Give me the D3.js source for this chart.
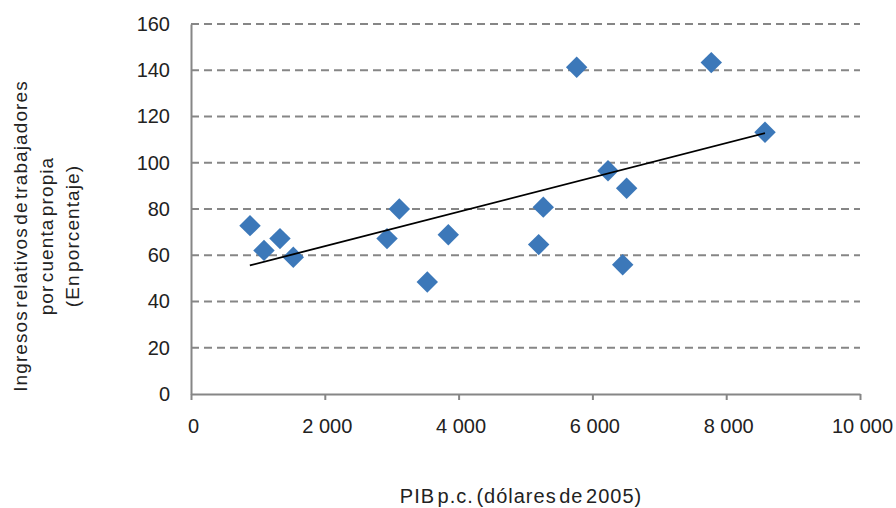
<!DOCTYPE html>
<html lang="es">
<head>
<meta charset="UTF-8">
<title>Ingresos relativos vs PIB p.c.</title>
<script src="https://d3js.org/d3.v7.min.js"></script>
<style>
  body { margin: 0; background: #fff; }
  text { font-family: "Liberation Sans", Arial, sans-serif; fill: #222; }
</style>
</head>
<body>
<div id="chart"></div>
<script>
// PIB p.c. (dólares de 2005) for each country
var pib = [882, 1091, 1330, 1529, 2930, 3114, 3532, 3846, 5266, 5197, 6453, 5765, 7777, 8580, 6233, 6512];
// ingresos relativos (%)
var ingresos = [72.8, 62.1, 67.2, 59.1, 67.2, 80.0, 48.4, 68.9, 80.8, 64.6, 55.9, 141.3, 143.3, 113.2, 96.5, 89.0];
// linear trend end points
var trendX = [880, 8580];
var trendY = [55.6, 112.8];

var xTicks = [0, 2000, 4000, 6000, 8000, 10000];
var yTicks = [0, 20, 40, 60, 80, 100, 120, 140, 160];

var W = 896, H = 508;
var margin = {left: 191, right: 36, top: 24, bottom: 114};

var svg = d3.select("#chart").append("svg")
    .attr("width", W).attr("height", H);

var x = d3.scaleLinear().domain([0, 10000]).range([margin.left, W - margin.right]);
var y = d3.scaleLinear().domain([0, 160]).range([H - margin.bottom, margin.top]);

var fmt = function(d) { return d3.format(",")(d).replace(/,/g, " "); };

// gridlines
svg.append("g").selectAll("line")
    .data(yTicks.filter(function(d) { return d > 0; }))
    .enter().append("line")
    .attr("x1", x(0)).attr("x2", x(10000))
    .attr("y1", function(d) { return y(d); })
    .attr("y2", function(d) { return y(d); })
    .attr("stroke", "#868686")
    .attr("stroke-width", 2)
    .attr("stroke-dasharray", "8,5");

// y axis
var yAxis = svg.append("g")
    .attr("transform", "translate(" + x(0) + ",0)")
    .call(d3.axisLeft(y).tickValues(yTicks).tickSize(0).tickPadding(21));
yAxis.select(".domain").attr("stroke", "#868686").attr("stroke-width", 2);
yAxis.selectAll("text").attr("font-size", "20px").style("fill", "#222");

// x axis
var xAxis = svg.append("g")
    .attr("transform", "translate(0," + y(0) + ")")
    .call(d3.axisBottom(x).tickValues(xTicks).tickSize(6).tickSizeOuter(0).tickPadding(19).tickFormat(fmt));
xAxis.select(".domain").attr("stroke", "#868686").attr("stroke-width", 2);
xAxis.selectAll(".tick line").attr("stroke", "#868686").attr("stroke-width", 2);
xAxis.selectAll("text").attr("font-size", "20px").style("fill", "#222").attr("dx", "2px");

// points
var pts = pib.map(function(d, i) { return [d, ingresos[i]]; });
svg.append("g").selectAll("path")
    .data(pts)
    .enter().append("path")
    .attr("d", d3.symbol().type(d3.symbolSquare).size(230))
    .attr("transform", function(d) { return "translate(" + x(d[0]) + "," + y(d[1]) + ") rotate(45)"; })
    .attr("fill", "#3c78b9");

// trend line
svg.append("path")
    .datum(trendX.map(function(d, i) { return [d, trendY[i]]; }))
    .attr("d", d3.line().x(function(d) { return x(d[0]); }).y(function(d) { return y(d[1]); }))
    .attr("stroke", "#000")
    .attr("stroke-width", 1.8)
    .attr("fill", "none");

// axis titles
svg.append("text")
    .attr("x", 521).attr("y", 503)
    .attr("text-anchor", "middle")
    .attr("font-size", "20px")
    .style("letter-spacing", "1px")
    .style("word-spacing", "-4px")
    .text("PIB p.c. (dólares de 2005)");

var yTitle = ["Ingresos relativos de trabajadores", "por cuenta propia", "(En porcentaje)"];
svg.append("g")
    .attr("transform", "translate(0,236) rotate(-90)")
    .selectAll("text")
    .data(yTitle)
    .enter().append("text")
    .attr("x", 0)
    .attr("y", function(d, i) { return 27 + i * 26; })
    .attr("text-anchor", "middle")
    .attr("font-size", "19px")
    .style("letter-spacing", "1.1px")
    .style("word-spacing", "-4px")
    .text(function(d) { return d; });
</script>
</body>
</html>
